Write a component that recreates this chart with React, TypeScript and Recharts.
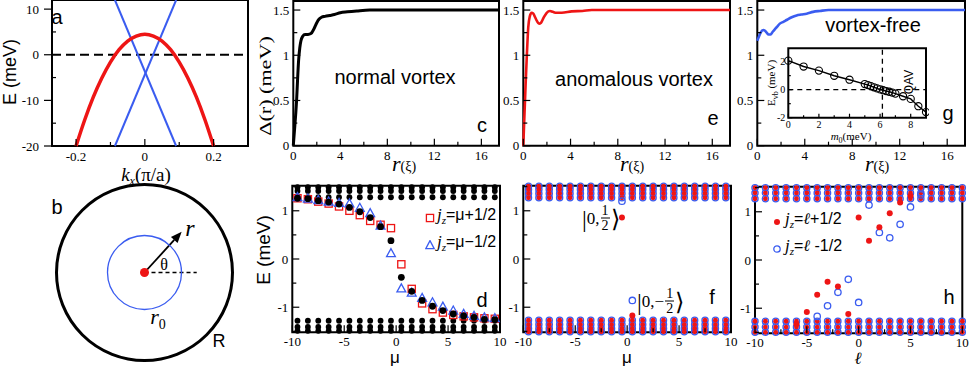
import React from "react";
import {
  LineChart,
  Line,
  ScatterChart,
  Scatter,
  ComposedChart,
  XAxis,
  YAxis,
  ReferenceArea,
  ReferenceLine,
  ReferenceDot
} from "recharts";

// panel a: bands
const bandK = [-0.2, -0.175, -0.15, -0.125, -0.1, -0.075, -0.05, -0.025, 0, 0.025, 0.05, 0.075, 0.1, 0.125, 0.15, 0.175, 0.2];
const bandE = [-20, -14.3, -9.3, -5.1, -1.6, 1.1, 3.0, 4.1, 4.5, 4.1, 3.0, 1.1, -1.6, -5.1, -9.3, -14.3, -20];
const coneK = [-0.087, 0.091];
const coneRise = [-20, 12];
const coneFall = [12, -20];

// panels c, e, g: gap profiles
const normalR = [0, 0.1, 0.2, 0.28, 0.36, 0.45, 0.55, 0.65, 0.8, 1.0, 1.25, 1.5, 1.75, 2.0, 2.2, 2.4, 2.7, 3.1, 3.5, 4.0, 4.6, 5.4, 6.5, 8, 11, 14, 17.5];
const normalGap = [0, 0.17, 0.34, 0.5, 0.72, 0.94, 1.08, 1.16, 1.21, 1.23, 1.23, 1.24, 1.29, 1.36, 1.4, 1.42, 1.43, 1.44, 1.45, 1.47, 1.48, 1.49, 1.5, 1.5, 1.5, 1.5, 1.5];
const anomR = [0, 0.1, 0.2, 0.3, 0.42, 0.55, 0.7, 0.85, 1.0, 1.15, 1.33, 1.5, 1.7, 1.98, 2.26, 2.5, 2.8, 3.25, 4.1, 5.0, 5.8, 7, 9, 12, 15, 17.5];
const anomGap = [0, 0.35, 0.69, 1.0, 1.31, 1.43, 1.47, 1.46, 1.42, 1.38, 1.35, 1.36, 1.41, 1.47, 1.49, 1.48, 1.47, 1.47, 1.485, 1.49, 1.5, 1.5, 1.5, 1.5, 1.5, 1.5];
const freeR = [0, 0.15, 0.28, 0.5, 0.65, 0.79, 0.95, 1.12, 1.3, 1.49, 1.7, 1.9, 2.2, 2.47, 2.9, 3.31, 3.7, 4.16, 4.7, 5.28, 6, 7, 9, 12, 15, 17.5];
const freeGap = [1.16, 1.21, 1.25, 1.28, 1.27, 1.25, 1.23, 1.23, 1.26, 1.29, 1.32, 1.35, 1.37, 1.39, 1.42, 1.44, 1.45, 1.46, 1.48, 1.49, 1.5, 1.5, 1.5, 1.5, 1.5, 1.5];

// inset of g
const insetM = [0, 1, 2, 3, 4, 5, 5.2, 5.4, 5.6, 5.8, 6.0, 6.2, 6.4, 6.6, 6.8, 7.0, 7.5, 8, 8.5, 9];
const insetE = [2.07, 1.65, 1.36, 0.99, 0.71, 0.4, 0.33, 0.25, 0.17, 0.09, 0.02, -0.04, -0.1, -0.15, -0.21, -0.28, -0.47, -0.66, -1.18, -1.6];
const qavM = 6.15;

// panel d
const muHalf = [-9.5, -8.5, -7.5, -6.5, -5.5, -4.5, -3.5, -2.5, -1.5, -0.5, 0.5, 1.5, 2.5, 3.5, 4.5, 5.5, 6.5, 7.5, 8.5, 9.5];
const dBound = [1.26, 1.25, 1.21, 1.18, 1.14, 1.07, 0.98, 0.86, 0.67, 0.38, -0.38, -0.67, -0.86, -0.98, -1.07, -1.14, -1.18, -1.21, -1.25, -1.26];
const dUp = [1.26, 1.24, 1.19, 1.15, 1.09, 1.0, 0.91, 0.79, 0.71, 0.64, -0.11, -0.62, -0.92, -1.04, -1.11, -1.16, -1.19, -1.21, -1.23, -1.24];
const dDown = [1.28, 1.25, 1.22, 1.19, 1.16, 1.15, 1.06, 0.95, 0.69, 0.12, -0.61, -0.7, -0.81, -0.9, -0.99, -1.07, -1.14, -1.18, -1.21, -1.23];
const dCont = [1.28, 1.41, 1.49, -1.28, -1.41, -1.49];

// panel f
const fCont = [1.27, 1.36, 1.44, 1.51, -1.27, -1.36, -1.44, -1.51];
const fRedMu = [-0.5, 0.5];
const fRedE = [0.86, -1.17];
const fBlueMu = [-0.5, 0.5];
const fBlueE = [1.2, -0.86];

// panel h
const ells = [-10, -9, -8, -7, -6, -5, -4, -3, -2, -1, 0, 1, 2, 3, 4, 5, 6, 7, 8, 9, 10];
const hCont = [1.27, 1.39, 1.5, -1.27, -1.39, -1.5];
const hRedL = [-6, -5, -4, -3, -2, -1, 0, 1, 2, 3, 4, 5];
const hRedE = [-1.33, -1.08, -0.72, -0.45, -0.55, -1.12, 0.88, 0.4, 0.68, 0.97, 1.19, 1.33];
const hBlueL = [-4, -3, -2, -1, 0, 1, 2, 3, 4, 5, 6];
const hBlueE = [-1.17, -0.95, -0.67, -0.4, -0.88, 1.14, 0.57, 0.46, 0.74, 1.1, 1.35];

const RED = "#ee1515";
const BLUE = "#3a5cf0";
const SERIF = '"Liberation Serif", "Times New Roman", serif';
const SANS = '"Liberation Sans", Arial, sans-serif';

const pts = (xs: number[], ys: number[]) => xs.map((x, i) => ({ x, y: ys[i] }));
const grid = (xs: number[], ys: number[]) => ys.flatMap(y => xs.map(x => ({ x, y })));
const isIn = (list: number[], v: number) => list.some(m => Math.abs(m - v) < 1e-9);

type TickOpt = { fs?: number; len?: number; minor?: number; gap?: number; out?: boolean };

const leftTick = (major: number[], o: TickOpt = {}) => (p: any) => {
  const v = Number(p.payload.value);
  const big = isIn(major, v);
  const fs = o.fs ?? 13, len = o.len ?? 7, mn = o.minor ?? 4, gap = o.gap ?? 4;
  const x2 = big && o.out ? p.x - len : p.x + (big ? len : mn);
  return (
    <g>
      <line x1={p.x} x2={x2} y1={p.y} y2={p.y} stroke="#000" strokeWidth={1.2} />
      {big && (
        <text x={p.x - gap} y={p.y} textAnchor="end" dominantBaseline="central" fontFamily={SERIF} fontSize={fs} fill="#000">
          {String(v)}
        </text>
      )}
    </g>
  );
};

const bottomTick = (major: number[], o: TickOpt = {}) => (p: any) => {
  const v = Number(p.payload.value);
  const big = isIn(major, v);
  const fs = o.fs ?? 13, len = o.len ?? 7, mn = o.minor ?? 4, gap = o.gap ?? 9.5;
  return (
    <g>
      <line x1={p.x} x2={p.x} y1={p.y} y2={p.y - (big ? len : mn)} stroke="#000" strokeWidth={1.2} />
      {big && (
        <text x={p.x} y={p.y + gap} textAnchor="middle" dominantBaseline="central" fontFamily={SERIF} fontSize={fs} fill="#000">
          {String(v)}
        </text>
      )}
    </g>
  );
};

const dot = (r: number, fill: string, stroke = "none", sw = 0) => (p: any) =>
  <circle cx={p.cx} cy={p.cy} r={r} fill={fill} stroke={stroke} strokeWidth={sw} />;
const square = (p: any) =>
  <rect x={p.cx - 3.6} y={p.cy - 3.6} width={7.2} height={7.2} fill="none" stroke={RED} strokeWidth={1.3} />;
const triangle = (p: any) =>
  <polygon points={`${p.cx},${p.cy - 4.6} ${p.cx - 4.4},${p.cy + 3.4} ${p.cx + 4.4},${p.cy + 3.4}`} fill="none" stroke={BLUE} strokeWidth={1.3} />;

const arrowShape = (p: any) => {
  const dx = p.x2 - p.x1, dy = p.y2 - p.y1;
  const L = Math.hypot(dx, dy) || 1;
  const ux = dx / L, uy = dy / L;
  const bx = p.x2 - ux * 11, by = p.y2 - uy * 11;
  return (
    <g>
      <line x1={p.x1} y1={p.y1} x2={bx} y2={by} stroke="#000" strokeWidth={1.8} />
      <polygon points={`${p.x2},${p.y2} ${bx - uy * 4.5},${by + ux * 4.5} ${bx + uy * 4.5},${by - ux * 4.5}`} fill="#000" />
    </g>
  );
};

function Note({ x, y, size, font = SANS, rotate = 0, italic = false, sx = 1, children }: any) {
  return (
    <div
      style={{
        position: "absolute",
        left: x,
        top: y,
        transform: `translate(-50%,-50%) rotate(${rotate}deg) scaleX(${sx})`,
        fontFamily: font,
        fontSize: size,
        fontStyle: italic ? "italic" : "normal",
        whiteSpace: "nowrap",
        lineHeight: 1,
        color: "#000"
      }}
    >
      {children}
    </div>
  );
}

function Ket({ x, y, neg }: { x: number; y: number; neg?: boolean }) {
  return (
    <div style={{ position: "absolute", left: x, top: y, transform: "translate(0,-50%)", display: "flex", alignItems: "center", fontFamily: SERIF, fontSize: 17, lineHeight: 1 }}>
      <span style={{ fontSize: 24, fontWeight: 300 }}>|</span>
      <span>0,{neg ? "−" : ""}</span>
      <span style={{ display: "inline-flex", flexDirection: "column", alignItems: "center", fontSize: 14, lineHeight: 1, margin: "0 1px" }}>
        <span>1</span>
        <span style={{ borderTop: "1px solid #000", padding: "0 1px" }}>2</span>
      </span>
      <span style={{ fontSize: 24 }}>⟩</span>
    </div>
  );
}

const Frame = ({ x, y }: { x: number[]; y: number[] }) => (
  <ReferenceArea x1={x[0]} x2={x[1]} y1={y[0]} y2={y[1]} fill="none" stroke="#000" strokeWidth={2} ifOverflow="visible" />
);

const box = (left: number, top: number): React.CSSProperties => ({ position: "absolute", left, top });

function GapPanel({ left, width, yw, mr, r, gap, color, sw }: any) {
  const xd = [0, 17.5];
  const yd = [0, 1.6];
  return (
    <div style={box(left, 0)}>
      <LineChart width={width} height={170} margin={{ top: 1, right: mr, left: 0, bottom: 0 }}>
        <XAxis type="number" dataKey="x" domain={xd} ticks={[0, 2, 4, 6, 8, 10, 12, 14, 16]} interval={0}
          tick={bottomTick([0, 4, 8, 12, 16])} tickLine={false} axisLine={false} tickSize={0} tickMargin={0} height={24.3} />
        <YAxis type="number" domain={yd} ticks={[0, 0.25, 0.5, 0.75, 1, 1.25, 1.5]} interval={0}
          tick={leftTick([0, 0.5, 1, 1.5])} tickLine={false} axisLine={false} tickSize={0} tickMargin={0} width={yw} />
        <Line data={pts(r, gap)} dataKey="y" type="monotone" dot={false} stroke={color} strokeWidth={sw} isAnimationActive={false} />
        {Frame({ x: xd, y: yd })}
      </LineChart>
    </div>
  );
}

function LevelPanel({ left, width, yw, mr, mt, children }: any) {
  const xd = [-10, 10];
  const yd = [-1.52, 1.52];
  return (
    <div style={box(left, 180)}>
      <ScatterChart width={width} height={186} margin={{ top: mt, right: mr, left: 0, bottom: 0 }}>
        <XAxis type="number" dataKey="x" domain={xd} ticks={[-10, -7.5, -5, -2.5, 0, 2.5, 5, 7.5, 10]} interval={0}
          tick={bottomTick([-10, -5, 0, 5, 10], { gap: 9 })} tickLine={false} axisLine={false} tickSize={0} tickMargin={0} height={186 - mt - 146.6} />
        <YAxis type="number" dataKey="y" domain={yd} ticks={[-1.5, -1, -0.5, 0, 0.5, 1, 1.5]} interval={0}
          tick={leftTick([-1, 0, 1])} tickLine={false} axisLine={false} tickSize={0} tickMargin={0} width={yw} />
        {children}
        {Frame({ x: xd, y: yd })}
      </ScatterChart>
    </div>
  );
}

export default function App() {
  const axd = [-0.27, 0.3];
  const ayd = [-20, 12];
  const ixd = [0, 9];
  const iyd = [-2, 2.95];
  const jz = (
    <>
      <i style={{ fontFamily: SERIF, fontSize: 17 }}>j</i>
      <sub style={{ fontSize: 11, fontStyle: "italic", fontFamily: SERIF }}>z</sub>
    </>
  );
  return (
    <div style={{ position: "absolute", left: 0, top: 0, width: 969, height: 366, background: "#fff", overflow: "hidden" }}>
      {/* a */}
      <div style={box(0, 0)}>
        <LineChart width={250} height={178} margin={{ top: 0, right: 2, left: 0, bottom: 0 }}>
          <XAxis type="number" dataKey="x" domain={axd} ticks={[-0.2, -0.1, 0, 0.1, 0.2]} interval={0}
            tick={bottomTick([-0.2, 0, 0.2], { gap: 10.5 })} tickLine={false} axisLine={false} tickSize={0} tickMargin={0} height={32} />
          <YAxis type="number" domain={ayd} ticks={[-20, -15, -10, -5, 0, 5, 10]} interval={0}
            tick={leftTick([-20, -10, 0, 10], { out: true, gap: 13, len: 8 })} tickLine={false} axisLine={false} tickSize={0} tickMargin={0} width={52} />
          <ReferenceLine y={0} stroke="#000" strokeWidth={2} strokeDasharray="9 5" />
          <Line data={pts(coneK, coneRise)} dataKey="y" type="linear" dot={false} stroke={BLUE} strokeWidth={2} isAnimationActive={false} />
          <Line data={pts(coneK, coneFall)} dataKey="y" type="linear" dot={false} stroke={BLUE} strokeWidth={2} isAnimationActive={false} />
          <Line data={pts(bandK, bandE)} dataKey="y" type="monotone" dot={false} stroke={RED} strokeWidth={3.5} isAnimationActive={false} />
          {Frame({ x: axd, y: ayd })}
        </LineChart>
      </div>
      <Note x={10} y={72} size={18} rotate={-90}>E (meV)</Note>
      <Note x={146} y={173.5} size={19} font={SERIF}>
        <i>k</i><sub style={{ fontSize: 12, fontStyle: "italic", verticalAlign: "-4px", lineHeight: 0 }}>x</sub>(π/a)
      </Note>
      <Note x={57} y={17} size={20}>a</Note>

      {/* b */}
      <div style={box(50, 178)}>
        <ScatterChart width={189} height={189} margin={{ top: 6, right: 6, left: 6, bottom: 6 }}>
          <XAxis type="number" dataKey="x" domain={[-1, 1]} hide />
          <YAxis type="number" dataKey="y" domain={[-1, 1]} hide />
          <ReferenceDot x={0} y={0} r={88} fill="none" stroke="#000" strokeWidth={3} />
          <ReferenceDot x={0} y={0} r={37} fill="none" stroke={BLUE} strokeWidth={1.3} />
          <ReferenceLine segment={[{ x: 0, y: 0 }, { x: 0.59, y: 0 }]} stroke="#000" strokeWidth={1.4} strokeDasharray="4 3" />
          <ReferenceLine segment={[{ x: 0, y: 0 }, { x: 0.42, y: 0.46 }]} shape={arrowShape} />
          <Scatter data={[{ x: 0, y: 0 }]} shape={dot(4.5, RED)} isAnimationActive={false} />
        </ScatterChart>
      </div>
      <Note x={57} y={207} size={20}>b</Note>
      <Note x={190} y={228} size={24} font={SERIF} italic>r</Note>
      <Note x={164} y={265} size={16} font={SERIF}>θ</Note>
      <Note x={158} y={319} size={22} font={SERIF}>
        <i>r</i><sub style={{ fontSize: 14 }}>0</sub>
      </Note>
      <Note x={219} y={341} size={18}>R</Note>

      {/* c, e, g */}
      <GapPanel left={250} width={252} yw={43.3} mr={3} r={normalR} gap={normalGap} color="#000" sw={3} />
      <GapPanel left={495} width={238} yw={28.3} mr={3} r={anomR} gap={anomGap} color={RED} sw={2.6} />
      <GapPanel left={730} width={239} yw={27.3} mr={4} r={freeR} gap={freeGap} color={BLUE} sw={2.6} />
      <Note x={265} y={86} size={17} font={SERIF} rotate={-90} sx={1.3}>Δ(r) (meV)</Note>
      {[404, 632, 877].map(cx => (
        <Note key={cx} x={cx} y={164} size={14} font={SERIF}>
          <i style={{ fontSize: 22 }}>r</i>(ξ)
        </Note>
      ))}
      <Note x={395} y={77} size={20}>normal vortex</Note>
      <Note x={634} y={79} size={20}>anomalous vortex</Note>
      <Note x={873} y={25} size={20}>vortex-free</Note>
      <Note x={482} y={125} size={20}>c</Note>
      <Note x={713} y={118} size={20}>e</Note>
      <Note x={948} y={113} size={20}>g</Note>

      {/* inset of g */}
      <div style={box(760, 40)}>
        <ComposedChart width={169} height={100} data={pts(insetM, insetE)} margin={{ top: 8.3, right: 3, left: 0, bottom: 0 }}>
          <XAxis type="number" dataKey="x" domain={ixd} ticks={[0, 1, 2, 3, 4, 5, 6, 7, 8]} interval={0}
            tick={bottomTick([0, 2, 4, 6, 8], { fs: 10, len: 4, minor: 2.5, gap: 7 })} tickLine={false} axisLine={false} tickSize={0} tickMargin={0} height={22.3} />
          <YAxis type="number" domain={iyd} ticks={[-2, -1, 0, 1, 2]} interval={0}
            tick={leftTick([-2, 0, 2], { fs: 10, len: 4, minor: 2.5, gap: 3 })} tickLine={false} axisLine={false} tickSize={0} tickMargin={0} width={28.3} />
          <ReferenceLine y={0} stroke="#000" strokeWidth={1.3} strokeDasharray="5 4" />
          <ReferenceLine x={qavM} stroke="#000" strokeWidth={1.3} strokeDasharray="5 4" />
          <Line dataKey="y" type="linear" stroke="#000" strokeWidth={1.4} isAnimationActive={false}
            dot={{ r: 3.6, fill: "none", stroke: "#000", strokeWidth: 1.1 }} />
          {Frame({ x: ixd, y: iyd })}
        </ComposedChart>
      </div>
      <Note x={773} y={83} size={11} font={SERIF} rotate={-90}>
        E<sub style={{ fontSize: 8 }}>vb</sub> (meV)
      </Note>
      <Note x={851} y={136} size={11} font={SERIF}>
        <i>m</i><sub style={{ fontSize: 8, lineHeight: 0 }}>0</sub>(meV)
      </Note>
      <Note x={909} y={82} size={12} rotate={-90}>QAV</Note>

      {/* d */}
      <LevelPanel left={250} width={262} yw={42.3} mr={12} mt={5.7}>
        <Scatter data={grid(muHalf, dCont)} shape={dot(2.9, "#000")} isAnimationActive={false} />
        <Scatter data={pts(muHalf, dUp)} shape={square} isAnimationActive={false} />
        <Scatter data={pts(muHalf, dDown)} shape={triangle} isAnimationActive={false} />
        <Scatter data={pts(muHalf, dBound)} shape={dot(3.4, "#000")} isAnimationActive={false} />
      </LevelPanel>
      <Note x={263} y={250} size={19} rotate={-90}>E (meV)</Note>
      <Note x={395} y={357} size={17}>μ</Note>
      <Note x={482} y={300} size={20}>d</Note>
      <div style={{ position: "absolute", left: 425, top: 204, fontSize: 16, fontFamily: SANS, lineHeight: "22px" }}>
        <div style={{ display: "flex", alignItems: "center" }}>
          <svg width={10} height={10}><rect x={1.4} y={1.4} width={7.2} height={7.2} fill="none" stroke={RED} strokeWidth={1.3} /></svg>
          <span style={{ marginLeft: 2 }}>{jz}=μ+1/2</span>
        </div>
        <div style={{ display: "flex", alignItems: "center" }}>
          <svg width={10} height={10}><polygon points="5,0.6 0.8,8.6 9.2,8.6" fill="none" stroke={BLUE} strokeWidth={1.3} /></svg>
          <span style={{ marginLeft: 2 }}>{jz}=μ−1/2</span>
        </div>
      </div>

      {/* f */}
      <LevelPanel left={495} width={248} yw={28.3} mr={12} mt={5.7}>
        <Scatter data={grid(muHalf, fCont)} shape={dot(3.1, "none", BLUE, 1.3)} isAnimationActive={false} />
        <Scatter data={grid(muHalf, fCont)} shape={dot(2.4, RED)} isAnimationActive={false} />
        <Scatter data={pts(fBlueMu, fBlueE)} shape={dot(3.2, "none", BLUE, 1.3)} isAnimationActive={false} />
        <Scatter data={pts(fRedMu, fRedE)} shape={dot(3, RED)} isAnimationActive={false} />
      </LevelPanel>
      <Ket x={582} y={218} />
      <Ket x={637} y={301} neg />
      <Note x={627} y={357} size={17}>μ</Note>
      <Note x={712} y={297} size={20}>f</Note>

      {/* h */}
      <LevelPanel left={727} width={248} yw={28} mr={12.7} mt={6.7}>
        <Scatter data={grid(ells, hCont)} shape={dot(3.1, "none", BLUE, 1.3)} isAnimationActive={false} />
        <Scatter data={grid(ells, hCont)} shape={dot(2.4, RED)} isAnimationActive={false} />
        <Scatter data={pts(hBlueL, hBlueE)} shape={dot(3.2, "none", BLUE, 1.3)} isAnimationActive={false} />
        <Scatter data={pts(hRedL, hRedE)} shape={dot(3, RED)} isAnimationActive={false} />
      </LevelPanel>
      <Note x={858} y={357.5} size={17} font={SERIF} italic>ℓ</Note>
      <Note x={949} y={297} size={20}>h</Note>
      <div style={{ position: "absolute", left: 772, top: 208, fontSize: 16, fontFamily: SANS, lineHeight: "22px" }}>
        <div style={{ display: "flex", alignItems: "center" }}>
          <svg width={10} height={10}><circle cx={5} cy={5} r={3} fill={RED} /></svg>
          <span style={{ marginLeft: 3 }}>{jz}=<i style={{ fontFamily: SERIF }}>ℓ</i>+1/2</span>
        </div>
        <div style={{ display: "flex", alignItems: "center" }}>
          <svg width={10} height={10}><circle cx={5} cy={5} r={3.2} fill="none" stroke={BLUE} strokeWidth={1.3} /></svg>
          <span style={{ marginLeft: 3 }}>{jz}=<i style={{ fontFamily: SERIF }}>ℓ</i> -1/2</span>
        </div>
      </div>
    </div>
  );
}
